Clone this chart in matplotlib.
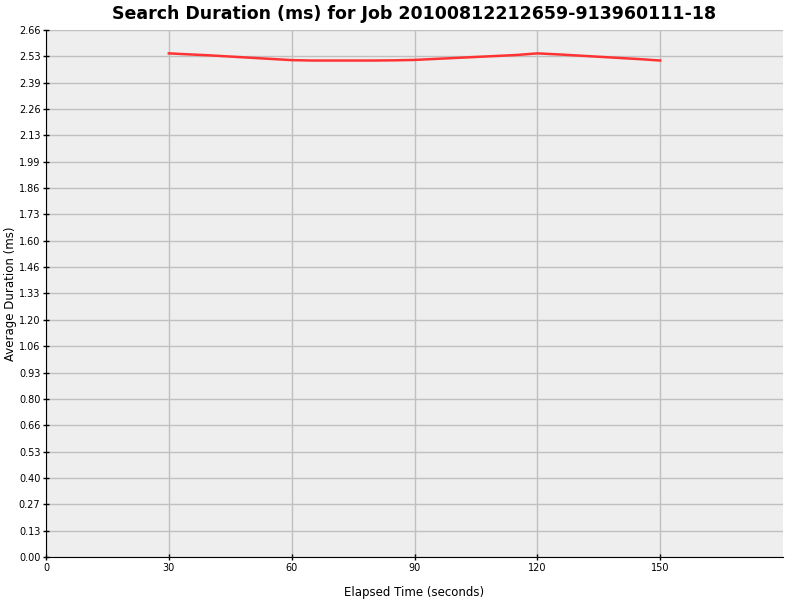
import matplotlib
matplotlib.use('Agg')
import matplotlib.pyplot as plt

# elapsed time (s) and average search duration (ms)
elapsed = [30, 35, 40, 45, 50, 55, 60, 65, 70, 75, 80, 85, 90,
           95, 100, 105, 110, 115, 120, 125, 130, 135, 140, 145, 150]
duration = [2.541, 2.536, 2.531, 2.525, 2.519, 2.513, 2.507, 2.505, 2.505,
            2.505, 2.505, 2.506, 2.508, 2.513, 2.518, 2.523, 2.528, 2.533,
            2.541, 2.536, 2.530, 2.524, 2.518, 2.512, 2.505]
y_step = 0.13295
y_ticks = [k * y_step for k in range(21)]
x_ticks = [0, 30, 60, 90, 120, 150]

def main():
	fig = plt.figure(figsize=(8, 6), dpi=100)
	ax = fig.add_axes([0.0575, 0.0717, 0.92125, 0.8783])
	ax.set_facecolor('#eeeeee')
	ax.plot(elapsed, duration, color='#ff3333', linewidth=1.8)

	ax.set_xlim(0, 180)
	ax.set_ylim(0, 20 * y_step)
	ax.set_xticks(x_ticks)
	ax.set_yticks(y_ticks)
	ax.set_yticklabels(['%.2f' % v for v in y_ticks])
	ax.grid(True, color='#c0c0c0', linewidth=1)
	ax.set_axisbelow(True)
	ax.tick_params(direction='inout', length=4, labelsize=7, width=1, pad=2)

	for side in ['top', 'right']:
		ax.spines[side].set_visible(False)
	ax.spines['left'].set_color('black')
	ax.spines['bottom'].set_color('black')

	ax.set_title('Search Duration (ms) for Job 20100812212659-913960111-18',
	             fontsize=12.5, fontweight='bold', pad=8)
	ax.set_xlabel('Elapsed Time (seconds)', fontsize=8.5, labelpad=10)
	ax.set_ylabel('Average Duration (ms)', fontsize=8.5)
	ax.yaxis.set_label_coords(-0.04, 0.5)

	plt.savefig('out.png')
	plt.close(fig)

main()
